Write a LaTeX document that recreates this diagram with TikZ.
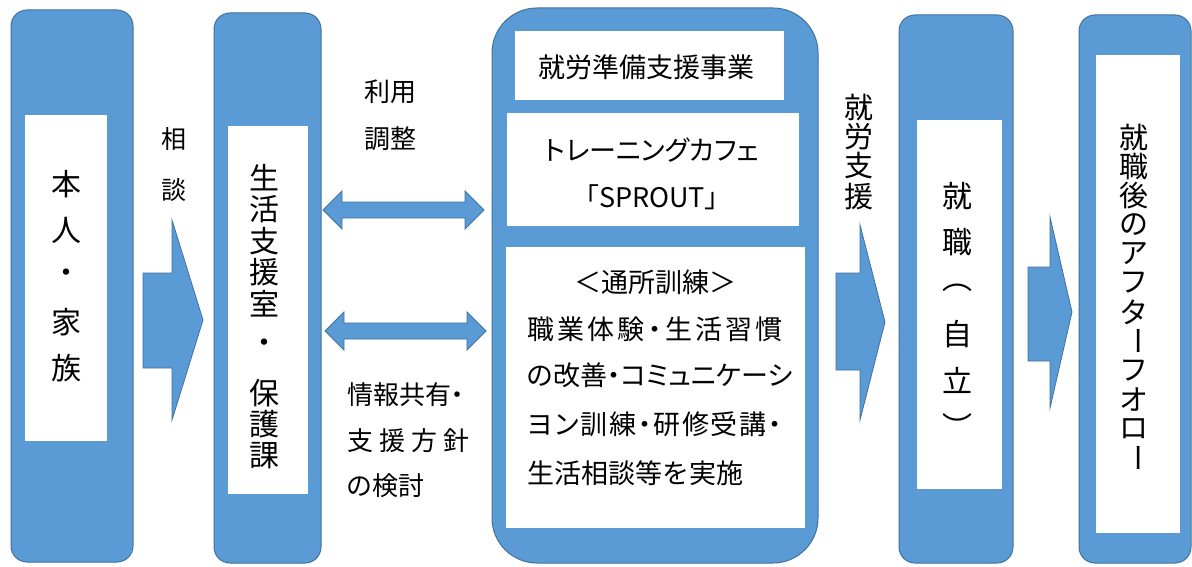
\documentclass[tikz,border=0pt]{standalone}
\usepackage{fontspec}
\usepackage{graphicx}
\newfontfamily\jp{Noto Sans CJK JP}
\newfontfamily\jpp[RawFeature=+palt]{Noto Sans CJK JP}
\definecolor{boxblue}{HTML}{5B9BD5}
\definecolor{edgeblue}{HTML}{41719C}
\def\sprEnd{SPREADENDMARK}
\newcommand\spreadto[2]{\makebox[#1][s]{\sprA#2\sprEnd}}
\def\sprA#1{\ifx#1\sprEnd\else#1\expandafter\sprB\fi}
\def\sprB#1{\ifx#1\sprEnd\else\hfil#1\expandafter\sprB\fi}
\begin{document}
\begin{tikzpicture}[x=1pt,y=-1pt,
  bluebox/.style={draw=edgeblue, line width=1pt, fill=boxblue, rounded corners=16pt, inner sep=0pt, outer sep=0pt},
  whitebox/.style={fill=white, inner sep=0pt, outer sep=0pt},
  blockarrow/.style={draw=edgeblue, line width=0.8pt, fill=boxblue, line join=miter},
  lbl/.style={inner sep=0pt, outer sep=0pt, text=black}]
\useasboundingbox (0,0) rectangle (1192,567);
\fill[white] (0,0) rectangle (1192,567);

% outer boxes
\node[bluebox, minimum width=122pt, minimum height=552pt] (b1) at (72,286) {};
\node[bluebox, minimum width=107pt, minimum height=550pt] (b2) at (267.5,288) {};
\node[bluebox, rounded corners=45pt, minimum width=326pt, minimum height=555pt] (b3) at (655,285.5) {};
\node[bluebox, minimum width=114pt, minimum height=548pt] (b4) at (956,289) {};
\node[bluebox, minimum width=112pt, minimum height=548pt] (b5) at (1135,289) {};

% inner white boxes
\node[whitebox, minimum width=82pt, minimum height=326pt] (w1) at (66,278) {};
\node[whitebox, minimum width=80pt, minimum height=368pt] (w2) at (268,310) {};
\node[whitebox, minimum width=269pt, minimum height=69pt] (h1) at (649.5,65.5) {};
\node[whitebox, minimum width=292pt, minimum height=113pt] (h2) at (653,169.5) {};
\node[whitebox, minimum width=299pt, minimum height=281pt] (h3) at (655.5,387.5) {};
\node[whitebox, minimum width=85pt, minimum height=369pt] (w4) at (959.5,304.5) {};
\node[whitebox, minimum width=84pt, minimum height=478pt] (w5) at (1138,294) {};

% block arrows
\draw[blockarrow] (143,273) -- (172,273) -- (172,220) -- (203,320) -- (172,420) -- (172,368) -- (143,368) -- cycle;
\draw[blockarrow] (836,273) -- (860,273) -- (860,225) -- (885,322) -- (860,420) -- (860,370) -- (836,370) -- cycle;
\draw[blockarrow] (1028,267) -- (1050,267) -- (1050,217) -- (1072,312) -- (1050,408) -- (1050,361) -- (1028,361) -- cycle;

% double arrows
\draw[blockarrow] (323,210) -- (342,191) -- (342,202) -- (465,202) -- (465,191) -- (484,210) -- (465,229) -- (465,218) -- (342,218) -- (342,229) -- cycle;
\draw[blockarrow] (325,331) -- (344,312) -- (344,323) -- (467,323) -- (467,312) -- (486,331) -- (467,350) -- (467,339) -- (344,339) -- (344,350) -- cycle;

% vertical texts
\foreach \c/\y [count=\i] in {本/184,人/230,・/276,家/322,族/368}
  \node[lbl, font=\jp\fontsize{30}{30}\selectfont] (ta-\i) at (66,\y) {\c};
\foreach \c/\y [count=\i] in {生/178,活/209.5,支/241,援/272.5,室/304,・/346,保/393,護/424.5,課/456}
  \node[lbl, font=\jp\fontsize{30}{30}\selectfont] (tb-\i) at (264,\y) {\c};
\foreach \c/\y [count=\i] in {相/139,談/190}
  \node[lbl, font=\jp\fontsize{25}{25}\selectfont] (tc-\i) at (173.5,\y) {\c};
\foreach \c/\y [count=\i] in {就/107,労/137,支/166,援/197}
  \node[lbl, font=\jp\fontsize{29}{29}\selectfont] (td-\i) at (859,\y) {\c};
\foreach \c/\y [count=\i] in {就/196,職/242,︵/288,自/334,立/380,︶/426}
  \node[lbl, font=\jp\fontsize{30}{30}\selectfont] (te-\i) at (957,\y) {\c};
\foreach \c/\y [count=\i] in {就/137,職/166.2,後/195.4,の/224.6,ア/253.8,フ/283,タ/312.2,{\rotatebox{-90}{ー}}/341.4,フ/370.6,オ/399.8,ロ/429,{\rotatebox{-90}{ー}}/458.2}
  \node[lbl, font=\jp\fontsize{29}{29}\selectfont] (tf-\i) at (1134,\y) {\c};

% horizontal labels
\node[lbl, font=\jp\fontsize{26}{26}\selectfont] (l1) at (390,92) {利用};
\node[lbl, font=\jp\fontsize{26}{26}\selectfont] (l2) at (390,139) {調整};
\node[lbl, anchor=west, font=\jpp\fontsize{26}{26}\selectfont] (l3) at (347,395) {情報共有・};
\node[lbl, anchor=west, font=\jpp\fontsize{26}{26}\selectfont] (l4) at (347,441) {\spreadto{123pt}{支援方針}};
\node[lbl, anchor=west, font=\jpp\fontsize{26}{26}\selectfont] (l5) at (347,486) {の検討};

% big box texts
\node[lbl, font=\jp\fontsize{27}{27}\selectfont] (m1) at (646,67) {就労準備支援事業};
\node[lbl, font=\jpp\fontsize{27}{27}\selectfont] (m2) at (652,150) {トレーニングカフェ};
\node[lbl, font=\jpp\fontsize{27}{27}\selectfont] (m3) at (652,197) {「SPROUT」};
\node[lbl, font=\jp\fontsize{27}{27}\selectfont] (m4) at (655,282) {＜通所訓練＞};
\node[lbl, anchor=west, font=\jpp\fontsize{27}{27}\selectfont] (m5) at (527,329) {\spreadto{256pt}{職業体験・生活習慣}};
\node[lbl, anchor=west, font=\jpp\fontsize{27}{27}\selectfont] (m6) at (527,375) {\spreadto{256pt}{の改善・コミュニケーシ}};
\node[lbl, anchor=west, font=\jpp\fontsize{27}{27}\selectfont] (m7) at (527,424) {\spreadto{255pt}{ヨン訓練・研修受講・}};
\node[lbl, anchor=west, font=\jp\fontsize{27}{27}\selectfont] (m8) at (527,473) {生活相談等を実施};
\end{tikzpicture}
\end{document}
